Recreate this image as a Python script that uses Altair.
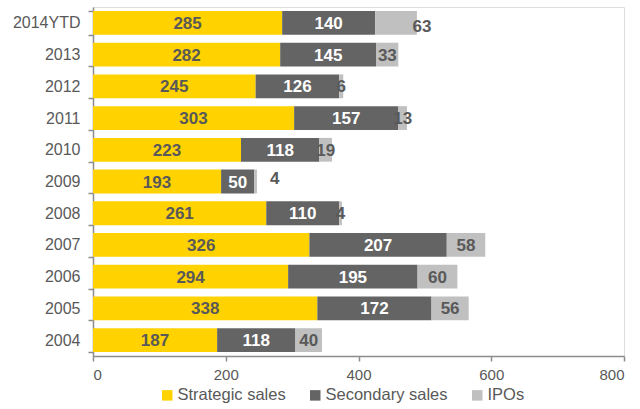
import altair as alt
import pandas as pd

years = ["2014YTD", "2013", "2012", "2011", "2010", "2009", "2008", "2007", "2006", "2005", "2004"]
strategic = [285, 282, 245, 303, 223, 193, 261, 326, 294, 338, 187]
secondary = [140, 145, 126, 157, 118, 50, 110, 207, 195, 172, 118]
ipos = [63, 33, 6, 13, 19, 4, 4, 58, 60, 56, 40]
series = ["Strategic sales", "Secondary sales", "IPOs"]
colors = ["#FFD200", "#646464", "#C0C0C0"]
label_colors = ["#595959", "#FFFFFF", "#595959"]

rows = []
for i, y in enumerate(years):
    for k, (s, vals) in enumerate(zip(series, [strategic, secondary, ipos])):
        rows.append({"year": y, "series": s, "value": vals[i], "order": k})
df = pd.DataFrame(rows)

FONT = "Liberation Sans"
AXIS_COLOR = "#8C8C8C"

ycat = alt.Y("year:N", sort=years, title=None,
             scale=alt.Scale(paddingInner=0.25, paddingOuter=0.125),
             axis=alt.Axis(tickBand="extent", labelFont=FONT, labelFontSize=16,
                           labelColor="#595959", domainColor=AXIS_COLOR, tickColor=AXIS_COLOR,
                           tickSize=5, labelPadding=8, domainWidth=1.5, tickWidth=1.5))

base = alt.Chart(df).transform_stack(
    stack="value", groupby=["year"], as_=["x0", "x1"],
    sort=[alt.SortField("order", order="ascending")]
).transform_calculate(mid="(datum.x0 + datum.x1) / 2")

bars = base.mark_bar().encode(
    y=ycat,
    x=alt.X("x0:Q", title=None,
            scale=alt.Scale(domain=[0, 800], nice=False),
            axis=alt.Axis(values=[0, 200, 400, 600, 800], grid=False, labelFont=FONT,
                          labelFontSize=15, labelColor="#595959", domainColor=AXIS_COLOR,
                          tickColor=AXIS_COLOR, tickSize=5, labelPadding=6,
                          domainWidth=1.5, tickWidth=1.5)),
    x2="x1:Q",
    color=alt.Color("series:N", sort=series,
                    scale=alt.Scale(domain=series, range=colors),
                    legend=alt.Legend(title=None, orient="none", direction="horizontal",
                                      legendX=66, legendY=380, symbolType="square",
                                      symbolSize=110, symbolStrokeWidth=0,
                                      labelFont=FONT, labelFontSize=16.5, labelColor="#595959",
                                      columnPadding=21, symbolOffset=0, labelOffset=2)),
)

# labels moved off their segments in the reference
nudged = {"2014YTD": (26, 3), "2009": (19, -4)}

texts = []
for s, c in zip(series, label_colors):
    flt = alt.datum.series == s
    if s == "IPOs":
        flt = (alt.datum.series == s) & (alt.datum.year != "2014YTD") & (alt.datum.year != "2009")
    texts.append(
        base.transform_filter(flt).mark_text(
            font=FONT, fontSize=17, fontWeight="bold", color=c, baseline="middle", dy=1
        ).encode(y=alt.Y("year:N", sort=years), x="mid:Q", text="value:Q")
    )
for yr, (dx, dy) in nudged.items():
    texts.append(
        base.transform_filter((alt.datum.series == "IPOs") & (alt.datum.year == yr)).mark_text(
            font=FONT, fontSize=17, fontWeight="bold", color="#595959", baseline="middle",
            dx=dx, dy=1 + dy
        ).encode(y=alt.Y("year:N", sort=years), x="mid:Q", text="value:Q")
    )

chart = alt.layer(bars, *texts).properties(
    width=531, height=349,
    padding={"left": 93, "top": 7, "right": 16, "bottom": 53},
    autosize=alt.AutoSizeParams(type="none"),
).configure_view(stroke=None).configure(background="white")

chart.save("out.html", embed_options={"renderer": "svg", "actions": False})
